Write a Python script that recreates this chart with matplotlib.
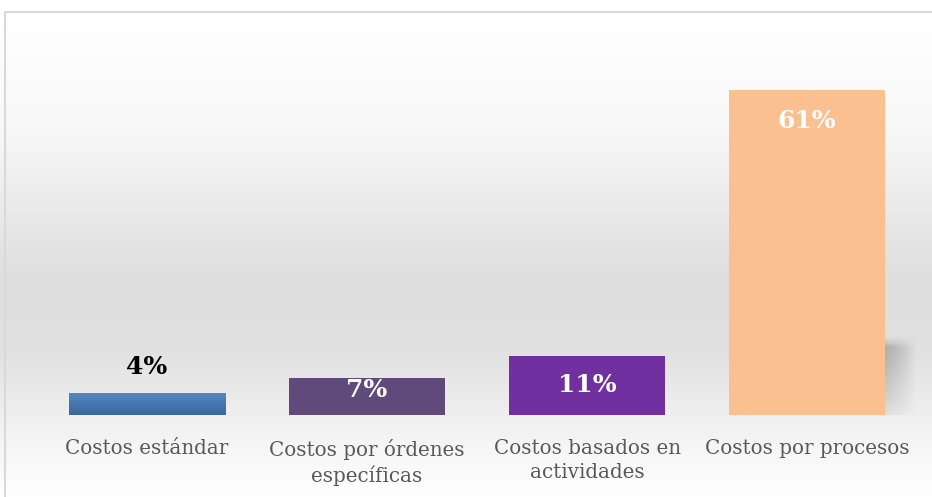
import numpy as np
import matplotlib.pyplot as plt
from matplotlib.patches import Rectangle

categories = ["Costos estándar", "Costos por órdenes\nespecíficas",
              "Costos basados en\nactividades", "Costos por procesos"]
values = [4, 7, 11, 61]
colors = ["#4a78b0", "#604a7b", "#7030a0", "#fac090"]
label_colors = ["black", "white", "white", "white"]
# posicion de la etiqueta respecto al extremo de la barra (en %)
label_offsets = [5.0, -2.3, -5.4, -5.8]

W, H = 932, 497
fig = plt.figure(figsize=(W / 100, H / 100), dpi=100)

# fondo con degradado (blanco - gris - blanco)
bg = fig.add_axes([0, 0, 1, 1], zorder=0)
bg.axis("off")
ys = np.linspace(0, 1, 300)
stops_y = [0.0, 0.04, 0.25, 0.55, 0.70, 0.88, 1.0]
stops_v = [1.0, 1.0, 0.975, 0.875, 0.88, 0.955, 1.0]
grad = np.interp(ys, stops_y, stops_v)
img = np.repeat(grad[:, None], 2, axis=1)
bg.imshow(np.dstack([img, img, img]), aspect="auto", extent=[0, 1, 1, 0])
bg.set_xlim(0, 1)
bg.set_ylim(1, 0)
bg.add_patch(Rectangle((4.5 / W, 11.5 / H), 1, 1, fill=False,
                       edgecolor="#d9d9d9", linewidth=1.5))

# zona del grafico
x0, x1 = 37 / W, 917 / W
ybot = 1 - 415 / H
ytop = 1 - 42 / H
ax = fig.add_axes([x0, ybot, x1 - x0, ytop - ybot], zorder=1)
ax.patch.set_alpha(0)
ax.axis("off")

x = np.arange(len(values))
bw = 0.71

# sombra de la ultima barra
i = len(values) - 1
sh_h = 15
sh = np.zeros((80, 60, 4))
yy = np.linspace(0, 1, 80)[:, None]   # 0 = arriba
xx = np.linspace(0, 1, 60)[None, :]
sh[..., :3] = 0.45
top_fade = np.clip(yy / 0.15, 0, 1) ** 1.5
sh[..., 3] = 0.5 * top_fade * (1 - yy) ** 0.9 * (1 - xx ** 1.3) \
    + 0.12 * (1 - xx) * yy
ax.imshow(sh, aspect="auto", extent=[x[i] + bw / 2, x[i] + 0.5, 0, sh_h],
          zorder=1, interpolation="bilinear")

# barras
for k in range(len(values)):
    if k == 0:
        g = np.linspace(0, 1, 50)[:, None]
        top = np.array([0.33, 0.53, 0.76])
        bot = np.array([0.23, 0.40, 0.61])
        cimg = top + (bot - top) * g[..., None]
        cimg = np.repeat(cimg, 2, axis=1)
        ax.imshow(cimg, aspect="auto",
                  extent=[x[k] - bw / 2, x[k] + bw / 2, 0, values[k]], zorder=2)
    else:
        ax.bar(x[k], values[k], width=bw, color=colors[k], zorder=2)

ax.set_xlim(-0.5, len(values) - 0.5)
ax.set_ylim(0, 70)

# etiquetas de valor
for k, v in enumerate(values):
    ax.text(x[k], v + label_offsets[k], f"{v}%", ha="center", va="center",
            fontsize=18, fontweight="bold", family="DejaVu Serif",
            color=label_colors[k], zorder=3)

# etiquetas de categoria
for k, c in enumerate(categories):
    ax.text(x[k], -4.5, c, ha="center", va="top", fontsize=14.3,
            family="DejaVu Serif", color="#595959", linespacing=1.35,
            zorder=3)

fig.savefig("out.png", dpi=100)
